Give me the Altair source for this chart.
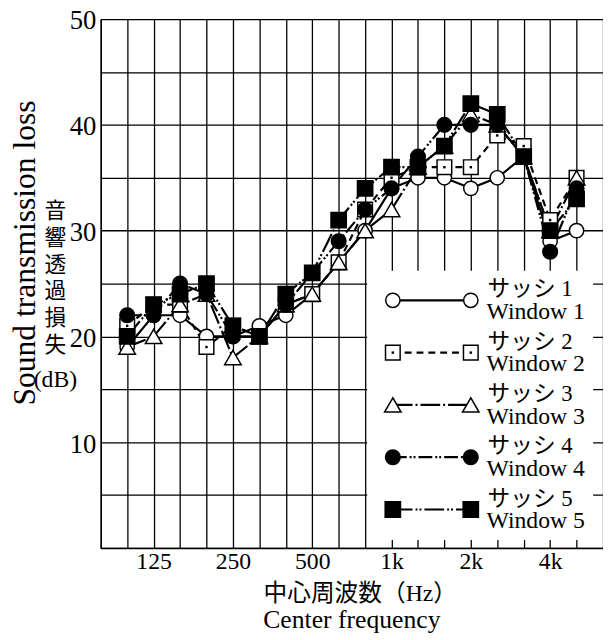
import json
import altair as alt
import pandas as pd

# 1/3-octave band centres (the first and last only bound the frame)
bands = ["80", "100", "125", "160", "200", "250", "315", "400", "500", "630", "800",
         "1k", "1.25k", "1.6k", "2k", "2.5k", "3.15k", "4k", "5k", "6.3k"]
measured = bands[1:19]
x_tick_labels = ["125", "250", "500", "1k", "2k", "4k"]
y_grid = [0, 5, 10, 15, 20, 25, 30, 35, 40, 45, 50]

window1 = [19, 22, 22, 20, 20, 21, 22, 24, 27, 30, 34, 35, 35, 34, 35, 37, 29, 30]
window2 = [21, 23, 23, 19, 21, 20, 23, 24, 27, 32, 35, 36, 36, 36, 39, 38, 31, 35]
window3 = [19, 20, 23, 24, 18, 20, 23, 24, 27, 30, 32, 36, 38, 41, 40, 37, 30, 35]
window4 = [22, 22, 25, 24, 20, 20, 23, 26, 29, 32, 34, 37, 40, 40, 40, 37, 28, 34]
window5 = [20, 23, 24, 25, 21, 20, 24, 26, 31, 34, 36, 36, 38, 42, 41, 37, 30, 33]

series_jp = ["サッシ 1", "サッシ 2", "サッシ 3", "サッシ 4", "サッシ 5"]
series_en = ["Window 1", "Window 2", "Window 3", "Window 4", "Window 5"]
series_values = [window1, window2, window3, window4, window5]

SERIF = "Liberation Serif, Noto Sans CJK JP"
JP = "Noto Sans CJK JP"

styles = [
    dict(shape="circle", fill="white", dash=None, size=210),
    dict(shape="square", fill="white", dash=[7, 5], size=220),
    dict(shape="triangle-up", fill="white", dash=[20, 3, 2, 3], size=280),
    dict(shape="circle", fill="black", dash=[14, 3, 2, 2, 2, 3], size=220),
    dict(shape="square", fill="black", dash=[20, 3, 2, 2, 2, 3], size=240),
]

rows = []
for en, vals in zip(series_en, series_values):
    for b, v in zip(measured, vals):
        rows.append({"band": b, "tl": v, "series": en})
df = pd.DataFrame(rows)

x_expr = "indexof(" + json.dumps(x_tick_labels) + ", datum.label) >= 0 ? datum.label : ''"

x_enc = alt.X(
    "band:O",
    scale=alt.Scale(type="point", domain=bands, padding=0),
    axis=alt.Axis(title="", grid=True, ticks=False, labelAngle=0, labelExpr=x_expr,
                  labelOverlap=False, labelFont="Liberation Serif", labelFontSize=24,
                  labelColor="black", labelPadding=2, gridColor="black", gridWidth=1.3,
                  gridOpacity=1, domainColor="black", domainWidth=1.5),
)
y_enc = alt.Y(
    "tl:Q",
    scale=alt.Scale(domain=[0, 50], nice=False, zero=False),
    axis=alt.Axis(title="", grid=True, ticks=False, values=y_grid,
                  labelExpr="datum.value > 0 && datum.value % 10 == 0 ? datum.label : ''",
                  labelFont="Liberation Serif", labelFontSize=27, labelColor="black",
                  labelPadding=5, labelOffset=2, gridColor="black", gridWidth=1.3,
                  gridOpacity=1, domainColor="black", domainWidth=1.5),
)

base = alt.Chart(df)
layers = []
for en, st in zip(series_en, styles):
    kw = dict(color="black", strokeWidth=2.2)
    if st["dash"]:
        kw["strokeDash"] = st["dash"]
    layers.append(base.transform_filter(alt.datum.series == en).mark_line(**kw).encode(x=x_enc, y=y_enc))
for en, st in zip(series_en, styles):
    layers.append(
        base.transform_filter(alt.datum.series == en)
        .mark_point(shape=st["shape"], filled=True, fill=st["fill"], stroke="black",
                    strokeWidth=1.5, size=st["size"], opacity=1)
        .encode(x=x_enc, y=y_enc)
    )
    if st["shape"] == "square" and st["fill"] == "white":
        layers.append(
            base.transform_filter(alt.datum.series == en)
            .mark_point(shape="square", filled=True, color="black", size=6, opacity=1)
            .encode(x=x_enc, y=y_enc)
        )

one = pd.DataFrame({"k": [0]})

# legend box (white, hides grid)
layers.append(alt.Chart(one).mark_rect(fill="white").encode(
    x=alt.value(270), x2=alt.value(499), y=alt.value(255), y2=alt.value(528)))

for i, (jp, en, st) in enumerate(zip(series_jp, series_en, styles)):
    yr = 285 + 53 * i
    kw = dict(color="black", strokeWidth=2.2)
    if st["dash"]:
        kw["strokeDash"] = st["dash"]
    layers.append(alt.Chart(one).mark_rule(**kw).encode(
        x=alt.value(296), x2=alt.value(375), y=alt.value(yr)))
    for lx in (296, 375):
        layers.append(alt.Chart(one).mark_point(
            shape=st["shape"], filled=True, fill=st["fill"], stroke="black",
            strokeWidth=1.5, size=st["size"], opacity=1).encode(
            x=alt.value(lx), y=alt.value(yr)))
        if st["shape"] == "square" and st["fill"] == "white":
            layers.append(alt.Chart(one).mark_point(
                shape="square", filled=True, color="black", size=6, opacity=1).encode(
                x=alt.value(lx), y=alt.value(yr)))
    layers.append(alt.Chart(one).mark_text(
        text=jp, align="left", baseline="middle", font=SERIF, fontSize=23, color="black").encode(
        x=alt.value(392), y=alt.value(yr - 11)))
    layers.append(alt.Chart(one).mark_text(
        text=en, align="left", baseline="middle", font=SERIF, fontSize=24, color="black").encode(
        x=alt.value(391), y=alt.value(yr + 12)))

# axis titles
layers.append(alt.Chart(one).mark_text(
    text="中心周波数（Hz）", align="center", baseline="middle", font=SERIF, fontSize=24,
    color="black").encode(x=alt.value(263), y=alt.value(583)))
layers.append(alt.Chart(one).mark_text(
    text="Center frequency", align="center", baseline="middle", font=SERIF, fontSize=26,
    color="black").encode(x=alt.value(254.5), y=alt.value(609)))
layers.append(alt.Chart(one).mark_text(
    text="Sound transmission loss", align="center", baseline="middle", angle=270,
    font=SERIF, fontSize=32, color="black").encode(x=alt.value(-77), y=alt.value(237)))
layers.append(alt.Chart(one).mark_text(
    text="音\n響\n透\n過\n損\n失", lineBreak="\n", lineHeight=27, align="center",
    baseline="middle", font=JP, fontSize=22, color="black").encode(
    x=alt.value(-46), y=alt.value(195)))
layers.append(alt.Chart(one).mark_text(
    text="(dB)", align="center", baseline="middle", font=SERIF, fontSize=24,
    color="black").encode(x=alt.value(-46), y=alt.value(366)))

chart = alt.layer(*layers).properties(
    width=509, height=536,
    autosize=alt.AutoSizeParams(type="none"),
    padding={"left": 94, "top": 7, "right": 0, "bottom": 89},
    background="white",
).configure_view(strokeWidth=0)

chart.save("out.html", embed_options={"renderer": "svg", "actions": False})
